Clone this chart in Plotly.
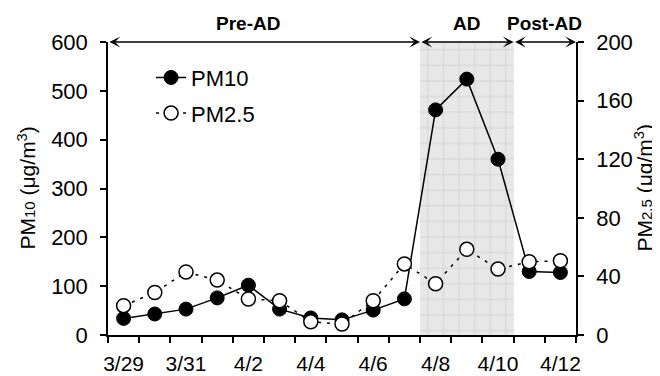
import plotly.graph_objects as go

dates = ["3/29", "3/30", "3/31", "4/1", "4/2", "4/3", "4/4", "4/5", "4/6", "4/7",
         "4/8", "4/9", "4/10", "4/11", "4/12"]
pm10 = [34, 43, 53, 76, 102, 53, 35, 31, 51, 74, 461, 524, 360, 130, 128]
pm25 = [20, 29, 43, 37.5, 24.6, 23.4, 9, 7.5, 23.4, 48.5, 35, 58.5, 45, 50, 50.7]
ad_days = ["4/8", "4/9", "4/10"]
ad_top = [600, 600, 600]
periods = ["Pre-AD", "AD", "Post-AD"]
period_start = ["3/29", "4/8", "4/11"]
period_end = ["4/7", "4/10", "4/12"]
period_label_at = [4, 11, 13.5]

idx = {d: i for i, d in enumerate(dates)}
xs = list(range(len(dates)))

FONT = "Liberation Sans, Arial, sans-serif"
fig = go.Figure()

# AD shaded band
fig.add_trace(go.Bar(
    x=[idx[d] for d in ad_days], y=ad_top, width=1,
    marker=dict(color="#e8e8e8", line=dict(width=0),
                pattern=dict(shape="+", fgcolor="#aaaaaa", bgcolor="#e8e8e8",
                             size=15.6, solidity=0.08)),
    showlegend=False, hoverinfo="skip"))

fig.add_trace(go.Scatter(
    x=xs, y=pm10, name="PM10", mode="lines+markers", legendgroup="a",
    line=dict(color="black", width=1.5),
    marker=dict(symbol="circle", size=14, color="black", line=dict(color="black", width=1))))

fig.add_trace(go.Scatter(
    x=xs, y=pm25, name="PM2.5", mode="lines+markers", yaxis="y2", legendgroup="b",
    line=dict(color="black", width=1.5, dash="3px,6px"),
    marker=dict(symbol="circle", size=14, color="white", line=dict(color="black", width=1.5))))

# Period arrows
for name, s, e, lx in zip(periods, period_start, period_end, period_label_at):
    x0 = idx[s] - 0.5
    x1 = idx[e] + 0.5
    fig.add_annotation(x=x1, y=600, ax=x0, ay=600, xref="x", yref="y", axref="x", ayref="y",
                       showarrow=True, arrowhead=3, startarrowhead=3, arrowside="end+start",
                       arrowsize=1.2, arrowwidth=1.5, arrowcolor="black", text="")
    fig.add_annotation(x=lx, y=1, xref="x", yref="paper", yanchor="bottom", yshift=6,
                       text="<b>%s</b>" % name, showarrow=False,
                       font=dict(family=FONT, size=19, color="black"))

# Axis titles
fig.add_annotation(x=0, y=0.5, xref="paper", yref="paper", xshift=-82, textangle=-90,
                   showarrow=False, xanchor="center", yanchor="middle",
                   text="PM<span style='font-size:15px'>10</span> (μg/m<sup>3</sup>)",
                   font=dict(family=FONT, size=21, color="black"))
fig.add_annotation(x=1, y=0.5, xref="paper", yref="paper", xshift=67, textangle=-90,
                   showarrow=False, xanchor="center", yanchor="middle",
                   text="PM<span style='font-size:15px'>2.5</span> (μg/m<sup>3</sup>)",
                   font=dict(family=FONT, size=21, color="black"))

fig.update_layout(
    width=652, height=368,
    margin=dict(l=100, r=84, t=34, b=41, autoexpand=False),
    paper_bgcolor="white", plot_bgcolor="white",
    font=dict(family=FONT, size=22, color="black"),
    bargap=0,
    showlegend=True,
    legend=dict(x=0.092, y=0.95, xanchor="left", yanchor="top", bgcolor="rgba(0,0,0,0)",
                font=dict(size=22), tracegroupgap=4, traceorder="grouped"),
    xaxis=dict(range=[-0.5, len(dates) - 0.5], tickvals=xs[::2], ticktext=dates[::2],
               ticks="", showgrid=False, zeroline=False, showline=True, linecolor="black",
               linewidth=1.5, ticklabelstandoff=9, automargin=False,
               tickfont=dict(size=21),
               minor=dict(tickvals=[i - 0.5 for i in range(len(dates) + 1)], ticks="outside",
                          ticklen=6, tickcolor="black", tickwidth=1.5, showgrid=False)),
    yaxis=dict(range=[0, 600], dtick=100, ticks="outside", ticklen=6, tickwidth=1.5,
               tickcolor="black", showgrid=False, zeroline=False, showline=True,
               linecolor="black", linewidth=1.5, ticklabelstandoff=8, automargin=False),
    yaxis2=dict(range=[0, 200], dtick=40, overlaying="y", side="right", ticks="outside",
                ticklen=6, tickwidth=1.5, tickcolor="black", showgrid=False, zeroline=False,
                showline=True, linecolor="black", linewidth=1.5, ticklabelstandoff=8,
                automargin=False),
)

fig.write_html("out.html")
